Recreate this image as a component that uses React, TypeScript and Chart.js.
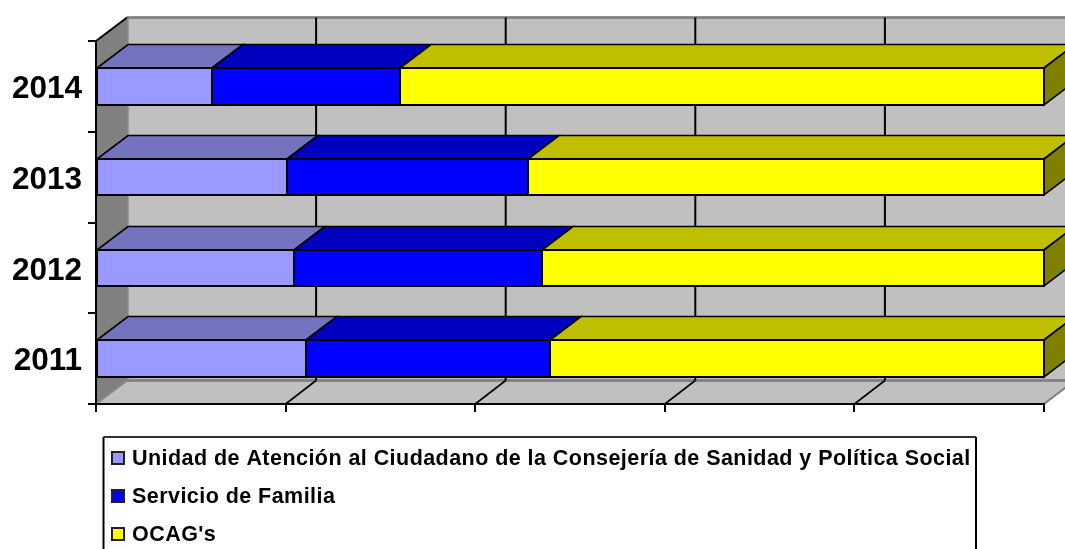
import React, { useEffect, useRef } from "react";
import { Chart, registerables } from "chart.js";

Chart.register(...registerables);

const categories = ["2014", "2013", "2012", "2011"];
const unidad = [12.2, 20.2, 20.9, 22.1];
const servicio = [19.9, 25.4, 26.1, 25.8];
const ocags = [67.9, 54.4, 53.0, 52.1];
const seriesNames = [
  "Unidad de Atención al Ciudadano de la Consejería de Sanidad y Política Social",
  "Servicio de Familia",
  "OCAG's",
];
const frontColors = ["#9999FF", "#0000FF", "#FFFF00"];
const topColors = ["#7373BF", "#0000BF", "#BFBF00"];
const sideColors = ["#4D4D80", "#000080", "#808000"];

const DX = 31;
const DY = 23.5;
const LEGEND = { left: 103.5, top: 437, right: 976, rowStart: 458, rowGap: 38 };

function poly(ctx: CanvasRenderingContext2D, pts: number[][], fill: string, stroke: string, lw: number) {
  ctx.beginPath();
  pts.forEach((p, i) => (i ? ctx.lineTo(p[0], p[1]) : ctx.moveTo(p[0], p[1])));
  ctx.closePath();
  ctx.fillStyle = fill;
  ctx.fill();
  if (lw > 0) {
    ctx.strokeStyle = stroke;
    ctx.lineWidth = lw;
    ctx.stroke();
  }
}
function seg(ctx: CanvasRenderingContext2D, a: number[], b: number[], color: string, lw: number) {
  ctx.beginPath();
  ctx.moveTo(a[0], a[1]);
  ctx.lineTo(b[0], b[1]);
  ctx.strokeStyle = color;
  ctx.lineWidth = lw;
  ctx.stroke();
}

const threeD = {
  id: "threeD",
  beforeDraw(chart: any) {
    const { ctx, chartArea: a, scales } = chart;
    const l = a.left, r = a.right, t = a.top, b = a.bottom;
    ctx.save();
    poly(ctx, [[l + DX, t - DY], [r + DX, t - DY], [r + DX, b - DY], [l + DX, b - DY]], "#C0C0C0", "#808080", 2);
    poly(ctx, [[l, b], [r, b], [r + DX, b - DY], [l + DX, b - DY]], "#C0C0C0", "#808080", 2);
    poly(ctx, [[l, t], [l + DX, t - DY], [l + DX, b - DY], [l, b]], "#808080", "#808080", 1);
    seg(ctx, [l, t], [l + DX, t - DY], "#000000", 2);
    seg(ctx, [l, b], [l + DX, b - DY], "#8c8c8c", 1.5);
    seg(ctx, [l + DX + 1, t - DY], [l + DX + 1, b - DY], "#8c8c8c", 1.5);
    seg(ctx, [l + DX, t - DY], [r + DX, t - DY], "#808080", 2.5);
    seg(ctx, [l + DX, b - DY], [r + DX, b - DY], "#808080", 2.5);
    scales.x.ticks.forEach((tk: any) => {
      const x = scales.x.getPixelForValue(tk.value);
      if (tk.value > 0 && tk.value < 100) {
        seg(ctx, [x + DX - 0.5, t - DY], [x + DX - 0.5, b - DY], "#000000", 2);
        seg(ctx, [x, b], [x + DX - 0.5, b - DY], "#000000", 1.6);
      }
    });
    ctx.restore();
  },
  afterDatasetsDraw(chart: any) {
    const { ctx } = chart;
    ctx.save();
    chart.data.datasets.forEach((_: any, di: number) => {
      const bars = chart.getDatasetMeta(di).data;
      bars.forEach((bar: any) => {
        const p = bar.getProps(["x", "y", "base", "height"], true);
        const x0 = Math.round(p.base), x1 = Math.round(p.x);
        const yT = Math.round(p.y - p.height / 2), yB = Math.round(p.y + p.height / 2);
        poly(ctx, [[x0, yT], [x1, yT], [x1 + DX, yT - DY], [x0 + DX, yT - DY]], topColors[di], "#000000", 1.6);
        if (di === chart.data.datasets.length - 1) {
          poly(ctx, [[x1, yT], [x1 + DX, yT - DY], [x1 + DX, yB - DY], [x1, yB]], sideColors[di], "#000000", 1.6);
        }
        ctx.strokeStyle = "#000000";
        ctx.lineWidth = 2;
        ctx.strokeRect(x0, yT, x1 - x0, yB - yT);
      });
    });
    ctx.restore();
  },
  afterDraw(chart: any) {
    const { ctx, height } = chart;
    ctx.save();
    seg(ctx, [LEGEND.left, height], [LEGEND.left, LEGEND.top], "#000000", 2);
    seg(ctx, [LEGEND.left, LEGEND.top], [LEGEND.right, LEGEND.top], "#303030", 2);
    seg(ctx, [LEGEND.right, LEGEND.top], [LEGEND.right, height], "#000000", 2);
    ctx.font = 'bold 21.5px "Liberation Sans", Arial, sans-serif';
    ctx.textBaseline = "middle";
    ctx.textAlign = "left";
    chart.data.datasets.forEach((ds: any, i: number) => {
      const y = LEGEND.rowStart + i * LEGEND.rowGap;
      ctx.fillStyle = ds.backgroundColor;
      ctx.fillRect(112, y - 6, 12, 12);
      ctx.strokeStyle = "#222222";
      ctx.lineWidth = 2;
      ctx.strokeRect(112, y - 6, 12, 12);
      ctx.fillStyle = "#000000";
      (ctx as any).letterSpacing = "0.45px";
      ctx.fillText(ds.label, 132, y + 1);
    });
    ctx.restore();
  },
};

export default function App() {
  const ref = useRef<HTMLCanvasElement>(null);
  useEffect(() => {
    const values = [unidad, servicio, ocags];
    const chart = new Chart(ref.current!, {
      type: "bar",
      data: {
        labels: categories,
        datasets: values.map((data, i) => ({
          label: seriesNames[i],
          data,
          backgroundColor: frontColors[i],
          borderWidth: 0,
          inflateAmount: 0,
          categoryPercentage: 1,
          barPercentage: 0.4,
        })),
      },
      options: {
        indexAxis: "y",
        responsive: false,
        animation: false,
        events: [],
        layout: { padding: { top: 41, right: 21, left: 0, bottom: 0 } },
        plugins: { legend: { display: false }, title: { display: false }, tooltip: { enabled: false } },
        scales: {
          x: {
            stacked: true,
            min: 0,
            max: 100,
            ticks: { stepSize: 20, display: false },
            grid: { drawOnChartArea: false, drawTicks: true, tickLength: 8, tickColor: "#000000", lineWidth: 2 },
            border: { color: "#000000", width: 2 },
            afterFit: (s: any) => { s.height = 145; },
          },
          y: {
            stacked: true,
            ticks: {
              color: "#000000",
              padding: 6,
              labelOffset: 3,
              font: { family: '"Liberation Sans", Arial, sans-serif', size: 31.5, weight: "bold" },
            },
            grid: { drawOnChartArea: false, drawTicks: true, tickLength: 8, tickColor: "#000000", lineWidth: 2 },
            border: { color: "#000000", width: 2 },
            afterFit: (s: any) => { s.width = 96; },
          },
        },
      },
      plugins: [threeD],
    } as any);
    return () => chart.destroy();
  }, []);
  return (
    <canvas
      ref={ref}
      width={1065}
      height={549}
      style={{ position: "fixed", left: 0, top: 0, display: "block", background: "#FFFFFF" }}
    />
  );
}
